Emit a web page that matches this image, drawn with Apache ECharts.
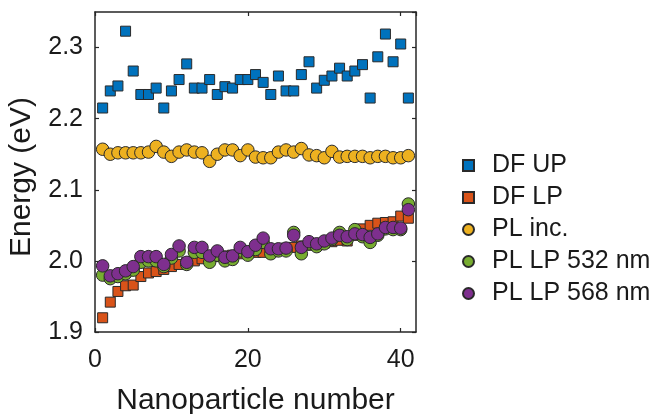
<!DOCTYPE html>
<html><head><meta charset="utf-8">
<script src="https://cdn.jsdelivr.net/npm/echarts@6/dist/echarts.min.js"></script>
<style>html,body{margin:0;padding:0;background:#fff}#c{width:654px;height:414px}</style>
</head><body><div id="c"></div>
<script>
var particles = [1,2,3,4,5,6,7,8,9,10,11,12,13,14,15,16,17,18,19,20,21,22,23,24,25,26,27,28,29,30,31,32,33,34,35,36,37,38,39,40,41];
var dfUP = [2.215,2.239,2.246,2.323,2.267,2.234,2.234,2.243,2.215,2.239,2.255,2.277,2.243,2.243,2.255,2.234,2.245,2.243,2.255,2.255,2.262,2.251,2.234,2.260,2.239,2.239,2.262,2.280,2.243,2.254,2.260,2.271,2.260,2.267,2.276,2.229,2.287,2.319,2.280,2.305,2.229];
var dfLP = [1.920,1.942,1.957,1.965,1.966,1.978,1.983,1.985,1.988,1.992,1.995,1.998,2.000,2.003,2.004,2.006,2.007,2.008,2.010,2.011,2.012,2.012,2.014,2.016,2.018,2.019,2.021,2.022,2.023,2.025,2.027,2.029,2.028,2.036,2.045,2.050,2.053,2.054,2.055,2.063,2.060];
var plInc = [2.157,2.150,2.152,2.152,2.152,2.152,2.153,2.161,2.153,2.147,2.153,2.156,2.153,2.152,2.140,2.150,2.156,2.156,2.148,2.156,2.146,2.145,2.145,2.153,2.156,2.153,2.158,2.149,2.148,2.145,2.154,2.146,2.147,2.147,2.147,2.145,2.147,2.147,2.145,2.145,2.148];
var plLP532 = [1.980,1.975,1.978,1.982,1.987,1.998,2.000,2.000,1.992,2.004,2.014,1.995,2.012,2.012,1.998,2.008,2.000,2.002,2.014,2.008,2.016,2.026,2.010,2.014,2.014,2.040,2.010,2.024,2.020,2.024,2.030,2.040,2.030,2.044,2.034,2.026,2.036,2.045,2.044,2.044,2.080];
var plLP568 = [1.993,1.979,1.982,1.986,1.992,2.006,2.006,2.006,1.995,2.009,2.021,1.998,2.019,2.019,2.007,2.014,2.005,2.007,2.019,2.013,2.022,2.032,2.017,2.017,2.018,2.036,2.019,2.027,2.024,2.028,2.032,2.036,2.034,2.038,2.037,2.033,2.038,2.047,2.047,2.046,2.072];
var seriesNames = ['DF UP','DF LP','PL inc.','PL LP 532 nm','PL LP 568 nm'];
var yTicks = [1.9, 2.0, 2.1, 2.2, 2.3];
var xTicks = [0, 20, 40];

var FONT = 'Liberation Sans, Arial, sans-serif';
var colors = ['#0072BD','#D95319','#EDB120','#77AC30','#7E2F8E'];
var symbols = ['rect','rect','circle','circle','circle'];
var sizes = [10,10,12.5,12.5,12.5];
var datas = [dfUP, dfLP, plInc, plLP532, plLP568];

function pts(arr){ return arr.map(function(v,i){ return [particles[i], v]; }); }

var chart = echarts.init(document.getElementById('c'), null, {renderer:'canvas'});
var axisCommon = {
  axisLine:{show:true, onZero:false, lineStyle:{color:'#262626', width:1.5}},
  axisTick:{show:true, inside:true, length:4, lineStyle:{color:'#262626', width:1.2}},
  splitLine:{show:false}
};
chart.setOption({
  animation:false,
  backgroundColor:'#fff',
  grid:{left:95, right:238, top:12, bottom:82, containLabel:false, outerBoundsMode:'none'},
  xAxis:[
    Object.assign({type:'value', min:0, max:42, interval:20, position:'bottom',
      name:'Nanoparticle number', nameLocation:'middle', nameGap:54,
      nameTextStyle:{fontFamily:FONT, fontSize:30, color:'#1a1a1a'},
      axisLabel:{fontFamily:FONT, fontSize:25, color:'#1a1a1a', margin:16, showMaxLabel:false,
        formatter:function(v){ return xTicks.indexOf(v)>=0 ? String(v) : ''; }}}, axisCommon),
    Object.assign({type:'value', min:0, max:42, interval:20, position:'top', axisLabel:{show:false}}, axisCommon)
  ],
  yAxis:[
    Object.assign({type:'value', min:1.9, max:2.35, interval:0.1, position:'left',
      name:'Energy (eV)', nameLocation:'middle', nameGap:58, nameRotate:90,
      nameTextStyle:{fontFamily:FONT, fontSize:30, color:'#1a1a1a', padding:[0,10,0,0]},
      axisLabel:{fontFamily:FONT, fontSize:25, color:'#1a1a1a', margin:12, showMaxLabel:false,
        formatter:function(v){ var r=Math.round(v*10)/10; return yTicks.indexOf(r)>=0 && Math.abs(v-r)<1e-6 ? r.toFixed(1) : ''; }}}, axisCommon),
    Object.assign({type:'value', min:1.9, max:2.35, interval:0.1, position:'right', axisLabel:{show:false}}, axisCommon)
  ],
  legend:{
    orient:'vertical', left:457, top:148, itemGap:7, itemWidth:11, itemHeight:11,
    textStyle:{fontFamily:FONT, fontSize:25, color:'#1a1a1a', padding:[0,0,0,13]},
    data: seriesNames.map(function(n,i){ return {name:n, icon:symbols[i]==='rect'?'rect':'circle'}; })
  },
  series: datas.map(function(d,i){
    return {type:'scatter', name:seriesNames[i], xAxisIndex:0, yAxisIndex:0,
      data:pts(d), symbol:symbols[i], symbolSize:sizes[i], z:2+i,
      itemStyle:{color:colors[i], borderColor:'#2a2a2a', borderWidth:1, opacity:1}};
  })
});
</script></body></html>
